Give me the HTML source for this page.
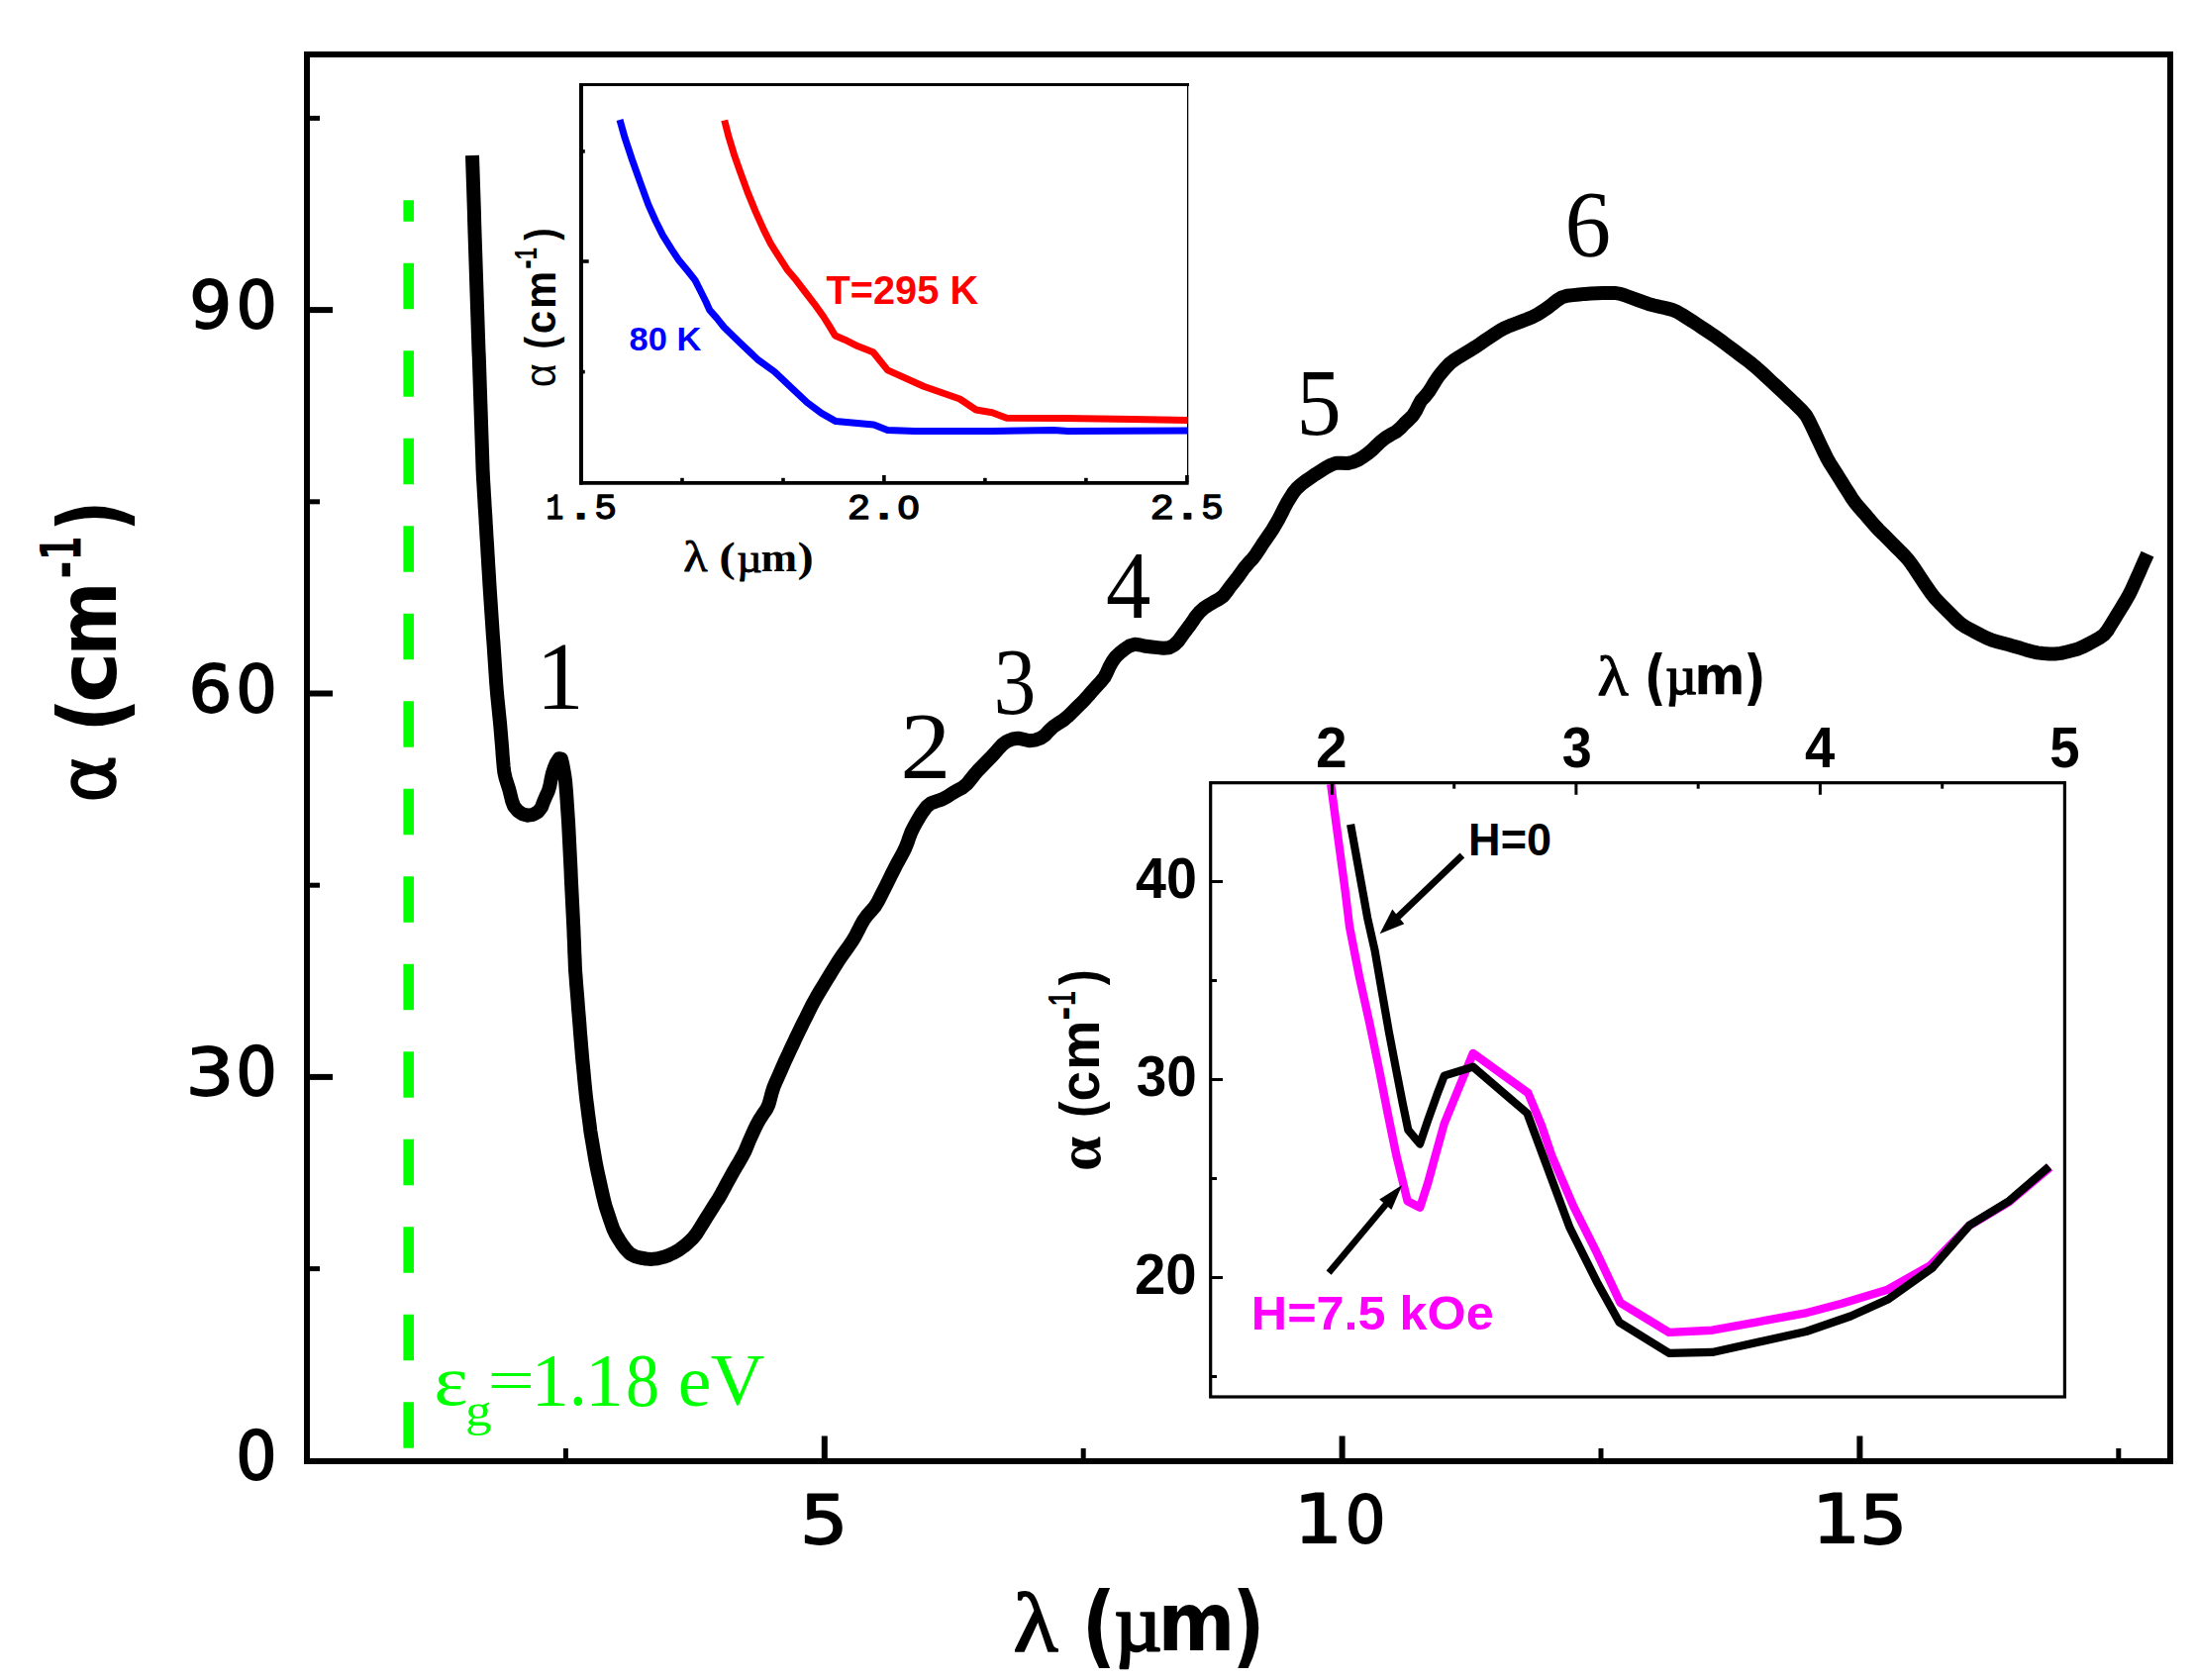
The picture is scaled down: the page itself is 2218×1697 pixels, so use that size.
<!DOCTYPE html>
<html lang="en"><head><meta charset="utf-8"><title>Absorption spectrum</title>
<style>
html,body{margin:0;padding:0;background:#fff;}
body{width:2218px;height:1697px;overflow:hidden;}
svg{display:block;}
text{white-space:pre;}
.sans{font-family:"Liberation Sans", sans-serif;}
.serif{font-family:"Liberation Serif", serif;}
.mono{font-family:"Liberation Mono", monospace;}
.djv{font-family:"DejaVu Sans", "Liberation Sans", sans-serif;}
.b{font-weight:bold;}
</style></head><body>
<svg width="2218" height="1697" viewBox="0 0 2218 1697">
<rect x="0" y="0" width="2218" height="1697" fill="#fff"/>
<g id="mainframe" stroke="#000" fill="none">
<rect x="310" y="55" width="1882" height="1421" stroke-width="6"/>
<line x1="832.8" y1="1474" x2="832.8" y2="1450.5" stroke-width="6"/>
<line x1="1355.6" y1="1474" x2="1355.6" y2="1450.5" stroke-width="6"/>
<line x1="1878.4" y1="1474" x2="1878.4" y2="1450.5" stroke-width="6"/>
<line x1="571.4" y1="1474" x2="571.4" y2="1463" stroke-width="5"/>
<line x1="1094.2" y1="1474" x2="1094.2" y2="1463" stroke-width="5"/>
<line x1="1617.0" y1="1474" x2="1617.0" y2="1463" stroke-width="5"/>
<line x1="2139.8" y1="1474" x2="2139.8" y2="1463" stroke-width="5"/>
<line x1="312" y1="1087.9" x2="336" y2="1087.9" stroke-width="6"/>
<line x1="312" y1="700.5" x2="336" y2="700.5" stroke-width="6"/>
<line x1="312" y1="313.1" x2="336" y2="313.1" stroke-width="6"/>
<line x1="312" y1="1281.6" x2="323" y2="1281.6" stroke-width="5"/>
<line x1="312" y1="894.2" x2="323" y2="894.2" stroke-width="5"/>
<line x1="312" y1="506.8" x2="323" y2="506.8" stroke-width="5"/>
<line x1="312" y1="119.4" x2="323" y2="119.4" stroke-width="5"/>
</g>
<g id="mainticks">
<text id="yt90a" class="djv" transform="translate(191.32 331.00) scale(1.0157 1)" font-size="66.36" fill="#000" stroke="#000" stroke-width="1.8" stroke-linejoin="round">9</text>
<text id="yt90b" class="djv" transform="translate(238.48 331.00) scale(0.9788 1)" font-size="66.36" fill="#000" stroke="#000" stroke-width="1.8" stroke-linejoin="round">0</text>
<text id="yt60a" class="djv" transform="translate(190.48 719.10) scale(1.0343 1)" font-size="66.62" fill="#000" stroke="#000" stroke-width="1.8" stroke-linejoin="round">6</text>
<text id="yt60b" class="djv" transform="translate(238.25 719.10) scale(0.9808 1)" font-size="66.62" fill="#000" stroke="#000" stroke-width="1.8" stroke-linejoin="round">0</text>
<text id="yt30a" class="djv" transform="translate(187.43 1106.30) scale(1.1516 1)" font-size="66.75" fill="#000" stroke="#000" stroke-width="1.8" stroke-linejoin="round">3</text>
<text id="yt30b" class="djv" transform="translate(238.25 1106.30) scale(0.9789 1)" font-size="66.75" fill="#000" stroke="#000" stroke-width="1.8" stroke-linejoin="round">0</text>
<text id="yt0" class="djv" transform="translate(238.28 1494.10) scale(0.9730 1)" font-size="66.75" fill="#000" stroke="#000" stroke-width="1.8" stroke-linejoin="round">0</text>
<text id="xt5" class="djv" transform="translate(807.98 1558.50) scale(1.1393 1)" font-size="66.89" fill="#000" stroke="#000" stroke-width="1.8" stroke-linejoin="round">5</text>
<text id="xt10a" class="djv" transform="translate(1307.05 1558.40) scale(1.1278 1)" font-size="68.08" fill="#000" stroke="#000" stroke-width="1.8" stroke-linejoin="round">1</text>
<text id="xt10b" class="djv" transform="translate(1358.83 1558.30) scale(0.9649 1)" font-size="66.49" fill="#000" stroke="#000" stroke-width="1.8" stroke-linejoin="round">0</text>
<text id="xt15a" class="djv" transform="translate(1830.18 1558.40) scale(1.1244 1)" font-size="68.08" fill="#000" stroke="#000" stroke-width="1.8" stroke-linejoin="round">1</text>
<text id="xt15b" class="djv" transform="translate(1878.00 1558.50) scale(1.1362 1)" font-size="66.89" fill="#000" stroke="#000" stroke-width="1.8" stroke-linejoin="round">5</text>
</g>
<g id="maintitles">
<text id="xt_l" class="serif" transform="translate(1023.48 1667.87) scale(1.0851 1)" font-size="85.67" fill="#000" stroke="#000" stroke-width="1.8" stroke-linejoin="round">λ</text>
<text id="xt_p" class="djv b" transform="translate(1092.45 1673.34) scale(0.8387 1)" font-size="90.45" fill="#000">(</text>
<text id="xt_mu" class="serif" transform="translate(1125.51 1667.27) scale(1.0015 1)" font-size="82.99" fill="#000" stroke="#000" stroke-width="2.4" stroke-linejoin="round">µ</text>
<text id="xt_m" class="djv b" transform="translate(1169.54 1667.30) scale(0.9183 1)" font-size="81.43" fill="#000">m</text>
<text id="xt_q" class="djv b" transform="translate(1244.43 1673.34) scale(0.7968 1)" font-size="90.45" fill="#000">)</text>
<text id="yt_a" class="djv" transform="translate(115.97 810.76) rotate(-90) scale(0.9285 1)" font-size="78.60" fill="#000" stroke="#000" stroke-width="1.5" stroke-linejoin="round">α</text>
<text id="yt_p" class="djv b" transform="translate(123.57 739.78) rotate(-90) scale(0.8373 1)" font-size="91.01" fill="#000">(</text>
<text id="yt_c" class="djv b" transform="translate(116.79 710.13) rotate(-90) scale(1.0817 1)" font-size="80.70" fill="#000">c</text>
<text id="yt_m" class="djv b" transform="translate(117.20 662.51) rotate(-90) scale(0.8834 1)" font-size="81.43" fill="#000">m</text>
<text id="yt_d" class="djv b" transform="translate(84.19 584.63) rotate(-90) scale(0.7557 1)" font-size="58.57" fill="#000">-</text>
<text id="yt_1" class="djv b" transform="translate(81.70 565.94) rotate(-90) scale(0.6130 1)" font-size="57.26" fill="#000">1</text>
<text id="yt_q" class="djv b" transform="translate(123.57 537.09) rotate(-90) scale(0.7540 1)" font-size="91.01" fill="#000">)</text>
</g>
<line id="gline" x1="412.7" y1="1462.7" x2="412.7" y2="202.3" stroke="#00ff00" stroke-width="10.6" stroke-dasharray="46.5 42"/>
<g id="gtext">
<text id="g_e" class="serif" transform="translate(438.33 1419.17) scale(1.1239 1)" font-size="72.71" fill="#00ff00">ε</text>
<text id="g_g" class="serif" transform="translate(470.00 1440.11) scale(1.1440 1)" font-size="46.62" fill="#00ff00">g</text>
<text id="g_eq" class="serif" transform="translate(492.48 1414.35) scale(1.4337 1)" font-size="58.80" fill="#00ff00">=</text>
<text id="g_1" class="serif" transform="translate(536.39 1419.60)" font-size="76.64" fill="#00ff00">1</text>
<text id="g_d" class="serif" transform="translate(574.79 1418.74) scale(0.9368 1)" font-size="77.39" fill="#00ff00">.</text>
<text id="g_1b" class="serif" transform="translate(591.24 1419.60)" font-size="76.64" fill="#00ff00">1</text>
<text id="g_8" class="serif" transform="translate(631.89 1419.55) scale(0.8999 1)" font-size="75.41" fill="#00ff00">8</text>
<text id="g_ee" class="serif" transform="translate(684.87 1419.56) scale(1.0290 1)" font-size="73.54" fill="#00ff00">e</text>
<text id="g_V" class="serif" transform="translate(717.75 1419.19) scale(1.0195 1)" font-size="73.98" fill="#00ff00">V</text>
</g>
<polyline id="maincurve" points="477.0,157.0 477.2,163.0 477.4,169.0 477.6,175.0 477.8,181.0 478.0,187.0 478.2,193.0 478.4,199.0 478.6,205.0 478.8,211.0 479.0,217.0 479.1,223.0 479.3,229.0 479.5,235.0 479.7,241.0 479.9,247.0 480.1,253.0 480.3,259.0 480.5,265.0 480.7,271.0 480.9,277.0 481.1,283.0 481.3,289.0 481.5,295.0 481.7,300.9 481.9,306.9 482.1,312.9 482.3,318.9 482.5,324.9 482.7,330.9 482.9,336.9 483.1,342.9 483.3,348.9 483.5,354.9 483.8,360.9 484.0,366.9 484.2,372.9 484.4,378.9 484.6,384.9 484.8,390.9 485.0,396.9 485.2,402.9 485.4,408.9 485.6,414.9 485.8,420.9 486.0,426.9 486.2,432.9 486.4,438.9 486.6,444.9 486.8,450.9 487.0,456.9 487.2,462.9 487.4,468.9 487.6,474.9 487.9,480.9 488.2,486.9 488.6,492.9 488.9,498.8 489.3,504.8 489.6,510.8 490.0,516.8 490.4,522.8 490.7,528.8 491.1,534.8 491.4,540.8 491.8,546.8 492.2,552.8 492.5,558.8 492.9,564.7 493.2,570.7 493.6,576.7 494.0,582.7 494.3,588.7 494.7,594.7 495.1,600.7 495.5,606.7 495.9,612.7 496.3,618.6 496.7,624.6 497.1,630.6 497.5,636.6 497.9,642.6 498.4,648.6 498.8,654.6 499.2,660.6 499.6,666.5 500.0,672.5 500.4,678.5 500.8,684.5 501.2,690.5 501.7,696.5 502.2,702.5 502.8,708.4 503.4,714.4 504.0,720.4 504.6,726.3 505.2,732.3 505.7,738.3 506.2,744.3 506.7,750.2 507.2,756.2 507.6,762.2 508.1,768.2 508.6,774.2 509.3,780.1 510.6,785.9 512.4,791.6 514.2,797.3 515.7,803.2 517.1,809.0 519.1,814.4 522.8,818.9 527.6,822.2 533.1,823.7 538.6,822.8 543.6,819.9 547.0,815.4 549.0,809.9 551.3,804.5 553.8,799.1 555.4,793.5 556.5,787.6 557.8,781.7 559.6,776.0 561.9,770.5 564.7,766.2 566.9,766.6 568.2,771.6 569.3,777.5 570.3,783.4 571.1,789.3 571.6,795.3 572.1,801.3 572.5,807.2 572.9,813.2 573.3,819.2 573.7,825.2 574.1,831.2 574.4,837.2 574.7,843.2 575.0,849.2 575.3,855.2 575.6,861.2 575.9,867.2 576.2,873.2 576.5,879.1 576.7,885.1 577.0,891.1 577.3,897.1 577.6,903.1 577.9,909.1 578.2,915.1 578.5,921.1 578.8,927.1 579.1,933.1 579.4,939.1 579.6,945.1 579.9,951.1 580.1,957.1 580.3,963.1 580.6,969.1 580.8,975.1 581.1,981.1 581.6,987.0 582.0,993.0 582.5,999.0 583.0,1005.0 583.5,1011.0 583.9,1017.0 584.4,1022.9 584.9,1028.9 585.4,1034.9 585.8,1040.9 586.3,1046.9 586.8,1052.8 587.3,1058.8 587.8,1064.8 588.3,1070.8 588.9,1076.8 589.5,1082.7 590.0,1088.7 590.6,1094.7 591.2,1100.6 591.8,1106.6 592.5,1112.6 593.3,1118.5 594.0,1124.5 594.8,1130.4 595.6,1136.4 596.3,1142.3 597.3,1148.3 598.3,1154.2 599.3,1160.1 600.3,1166.0 601.3,1171.9 602.4,1177.8 603.6,1183.7 604.9,1189.6 606.2,1195.4 607.5,1201.3 608.8,1207.1 610.2,1213.0 611.7,1218.8 613.6,1224.5 615.5,1230.2 617.4,1235.9 619.4,1241.5 622.0,1246.9 625.1,1252.0 628.3,1257.0 631.9,1261.8 635.9,1266.1 640.9,1268.9 646.6,1270.5 652.5,1271.5 658.4,1271.9 664.3,1271.3 670.1,1269.8 675.7,1267.8 681.1,1265.2 686.3,1262.2 691.1,1258.7 695.6,1254.7 699.9,1250.6 703.6,1246.0 706.8,1240.9 710.0,1235.8 713.1,1230.7 716.3,1225.6 719.5,1220.5 722.7,1215.4 725.9,1210.4 728.9,1205.2 731.8,1199.9 734.6,1194.6 737.5,1189.4 740.4,1184.1 743.4,1178.9 746.5,1173.8 749.5,1168.6 752.3,1163.3 754.6,1157.8 756.9,1152.2 759.3,1146.7 761.8,1141.3 764.4,1135.9 767.3,1130.6 770.6,1125.6 774.0,1120.7 776.5,1115.4 778.1,1109.6 779.6,1103.8 781.4,1098.1 783.7,1092.6 786.2,1087.1 788.6,1081.6 791.0,1076.1 793.4,1070.7 796.0,1065.2 798.5,1059.8 801.1,1054.4 803.6,1048.9 806.2,1043.5 808.8,1038.1 811.5,1032.7 814.2,1027.4 816.8,1022.0 819.5,1016.6 822.3,1011.3 825.2,1006.1 828.3,1000.9 831.4,995.8 834.5,990.7 837.7,985.5 840.8,980.4 843.9,975.3 847.1,970.2 850.5,965.3 854.0,960.4 857.5,955.5 860.9,950.6 863.9,945.4 866.7,940.1 869.4,934.7 872.3,929.5 875.8,924.7 879.8,920.2 883.6,915.7 886.8,910.6 889.5,905.3 892.2,899.9 894.9,894.6 897.6,889.2 900.2,883.8 902.9,878.5 905.6,873.1 908.5,867.8 911.4,862.6 914.1,857.3 916.4,851.7 918.3,846.1 920.4,840.5 923.1,835.1 926.0,829.9 929.0,824.7 932.3,819.7 935.9,814.9 940.2,811.3 945.7,809.3 951.3,807.5 956.6,804.8 961.5,801.5 966.6,798.4 971.9,795.7 976.5,792.1 980.2,787.5 983.9,782.8 987.8,778.2 992.0,774.0 996.2,769.7 1000.4,765.4 1004.5,761.0 1008.4,756.5 1012.5,752.2 1017.2,748.7 1022.7,746.5 1028.3,745.7 1034.0,746.9 1039.6,748.2 1045.3,747.6 1050.9,745.7 1055.6,742.4 1059.6,738.1 1063.9,734.0 1068.9,730.7 1073.9,727.5 1078.5,723.7 1082.8,719.5 1087.0,715.3 1091.3,711.1 1095.5,706.8 1099.5,702.4 1103.4,697.8 1107.4,693.3 1111.5,689.0 1115.3,684.4 1118.0,679.2 1120.5,673.7 1123.4,668.4 1126.8,663.6 1131.1,659.5 1135.8,655.8 1140.7,652.5 1145.9,650.8 1151.5,651.5 1157.3,652.8 1163.3,653.5 1169.2,654.1 1175.1,654.8 1180.7,654.3 1185.8,651.6 1190.0,647.6 1193.5,642.7 1197.0,637.9 1200.7,633.1 1204.1,628.3 1207.4,623.3 1211.2,618.7 1215.6,614.6 1220.5,611.2 1225.7,608.2 1230.9,605.4 1235.6,602.0 1239.2,597.4 1242.7,592.5 1246.4,587.8 1250.1,583.1 1253.6,578.2 1257.1,573.3 1261.0,568.8 1265.1,564.4 1268.7,559.7 1272.0,554.7 1275.2,549.6 1278.6,544.7 1282.0,539.8 1285.3,534.8 1288.4,529.6 1291.4,524.4 1294.2,519.1 1296.8,513.7 1299.6,508.4 1302.7,503.3 1305.9,498.2 1309.6,493.5 1314.0,489.5 1318.7,485.9 1323.7,482.5 1328.6,479.1 1333.7,475.8 1338.7,472.6 1344.0,469.8 1349.4,467.8 1355.0,467.8 1360.7,468.1 1366.4,466.8 1371.9,464.5 1376.9,461.4 1381.8,457.8 1386.4,454.0 1390.6,449.8 1395.0,445.7 1399.7,442.0 1404.8,438.9 1410.0,436.1 1414.4,432.4 1418.5,428.0 1422.8,424.0 1427.0,419.8 1430.2,414.8 1432.7,409.5 1435.4,404.5 1439.4,400.3 1443.1,395.7 1446.3,390.6 1449.4,385.5 1452.7,380.5 1456.4,375.8 1460.3,371.3 1464.5,367.0 1469.3,363.4 1474.3,360.2 1479.5,357.1 1484.6,354.0 1489.7,350.8 1494.7,347.5 1499.6,344.1 1504.6,340.7 1509.6,337.4 1514.6,334.2 1519.9,331.2 1525.3,328.9 1531.0,326.7 1536.6,324.6 1542.2,322.5 1547.7,320.2 1553.0,317.5 1558.1,314.3 1563.1,310.9 1567.8,307.3 1572.5,303.5 1577.4,300.4 1582.9,298.8 1588.9,298.1 1594.9,297.5 1600.8,296.9 1606.8,296.5 1612.8,296.3 1618.8,296.1 1624.8,295.9 1630.8,295.9 1636.6,296.8 1642.2,298.7 1647.8,300.8 1653.5,302.9 1659.1,304.9 1664.8,306.9 1670.5,308.5 1676.4,309.9 1682.2,311.1 1688.0,312.6 1693.5,314.8 1698.7,317.8 1703.8,321.0 1708.9,324.2 1713.9,327.5 1718.9,330.8 1723.9,334.1 1728.9,337.5 1733.8,340.8 1738.7,344.4 1743.5,348.0 1748.3,351.6 1753.1,355.2 1757.9,358.8 1762.7,362.4 1767.5,366.0 1772.1,369.8 1776.6,373.8 1781.0,377.8 1785.4,381.9 1789.8,386.0 1794.2,390.0 1798.6,394.1 1803.0,398.3 1807.3,402.4 1811.7,406.5 1816.0,410.7 1820.3,414.9 1824.1,419.4 1827.0,424.6 1829.6,430.0 1832.2,435.4 1834.7,440.8 1837.3,446.2 1839.9,451.7 1842.5,457.1 1845.1,462.5 1848.1,467.7 1851.3,472.7 1854.5,477.8 1857.7,482.9 1860.9,488.0 1864.1,493.1 1867.3,498.1 1870.5,503.2 1874.0,508.1 1877.8,512.7 1881.7,517.2 1885.7,521.7 1889.6,526.3 1893.6,530.8 1897.6,535.2 1901.9,539.4 1906.1,543.7 1910.3,547.9 1914.6,552.2 1918.8,556.4 1923.1,560.7 1927.1,565.1 1930.7,569.9 1934.1,574.8 1937.4,579.8 1940.7,584.8 1944.0,589.8 1947.4,594.8 1950.8,599.7 1954.5,604.4 1958.6,608.7 1962.9,613.0 1967.1,617.2 1971.4,621.5 1975.6,625.7 1980.0,629.7 1984.9,633.1 1990.2,635.9 1995.5,638.7 2000.8,641.5 2006.2,644.2 2011.7,646.5 2017.4,648.2 2023.2,649.8 2029.0,651.3 2034.8,653.0 2040.5,654.6 2046.3,656.4 2052.0,658.0 2057.8,659.4 2063.8,660.0 2069.8,660.4 2075.7,660.5 2081.6,659.9 2087.5,658.5 2093.3,657.0 2099.0,655.4 2104.5,653.0 2109.8,650.2 2115.1,647.4 2120.3,644.5 2125.1,641.1 2128.8,636.5 2131.9,631.4 2135.1,626.3 2138.2,621.2 2141.3,616.1 2144.4,611.0 2147.5,605.8 2150.5,600.6 2153.1,595.2 2155.6,589.8 2158.0,584.3 2160.5,578.8 2162.9,573.3 2165.3,567.8 2167.8,562.3 2169.0,559.6" fill="none" stroke="#000" stroke-width="14" stroke-linejoin="round"/>
<g id="peaks">
<text id="pk1" class="serif" transform="translate(541.44 716.30)" font-size="96.64" fill="#000">1</text>
<text id="pk2" class="serif" transform="translate(909.19 785.60) scale(1.0772 1)" font-size="95.15" fill="#000">2</text>
<text id="pk3" class="serif" transform="translate(1003.51 721.04) scale(0.8960 1)" font-size="95.82" fill="#000">3</text>
<text id="pk4" class="serif" transform="translate(1117.08 624.48) scale(0.9378 1)" font-size="96.77" fill="#000">4</text>
<text id="pk5" class="serif" transform="translate(1309.57 439.15) scale(0.9508 1)" font-size="95.19" fill="#000">5</text>
<text id="pk6" class="serif" transform="translate(1580.41 259.14) scale(0.9709 1)" font-size="95.97" fill="#000">6</text>
</g>
<g id="inset1">
<g stroke="#000" fill="none">
<line x1="587" y1="84" x2="587" y2="489.6" stroke-width="4"/>
<line x1="585" y1="85.5" x2="1201" y2="85.5" stroke-width="3"/>
<line x1="585" y1="487.8" x2="1200.6" y2="487.8" stroke-width="3.7"/>
<line x1="1199.6" y1="85" x2="1199.6" y2="489" stroke-width="1.3"/>
<line x1="892.9" y1="487" x2="892.9" y2="480" stroke-width="3.6"/>
<line x1="1198.9" y1="487" x2="1198.9" y2="480" stroke-width="3.6"/>
<line x1="689" y1="487" x2="689" y2="482.8" stroke-width="3.6"/>
<line x1="791" y1="487" x2="791" y2="482.8" stroke-width="3.6"/>
<line x1="994.9" y1="487" x2="994.9" y2="482.8" stroke-width="3.6"/>
<line x1="1096.9" y1="487" x2="1096.9" y2="482.8" stroke-width="3.6"/>
<line x1="588" y1="264" x2="594.7" y2="264" stroke-width="3.6"/>
<line x1="588" y1="152.9" x2="590.8" y2="152.9" stroke-width="3.6"/>
<line x1="588" y1="375.6" x2="590.8" y2="375.6" stroke-width="3.6"/>
</g>
<polyline id="redc" points="731.7,121.5 735.8,137.4 741.3,155.6 747.7,173.8 755.0,193.9 763.2,213.9 771.4,232.1 778.7,246.7 786.8,259.4 795.0,272.2 804.2,283.1 813.3,295.0 822.4,306.8 831.5,319.5 837.9,329.6 843.5,339.0 853.3,343.2 866.1,349.6 881.9,355.7 896.5,373.9 932.9,390.3 969.4,403.0 985.8,414.0 1002.1,416.7 1016.7,422.2 1075.0,422.5 1144.2,423.4 1199.6,424.4" fill="none" stroke="#ff0000" stroke-width="7" stroke-linejoin="round"/>
<polyline id="bluec" points="626.0,121.0 631.1,139.2 638.4,161.1 647.5,186.6 654.8,206.6 662.1,223.0 669.4,237.6 678.5,252.1 685.8,263.1 694.9,274.0 702.1,283.1 707.6,294.0 713.1,305.0 716.7,313.2 724.0,321.4 731.3,330.5 747.7,346.4 765.9,363.7 782.3,375.5 800.5,392.8 815.1,406.5 829.7,417.4 844.2,425.6 882.5,428.9 896.5,434.4 923.8,435.5 1002.1,435.5 1064.1,434.4 1078.6,435.5 1199.6,435.1" fill="none" stroke="#0000ff" stroke-width="7" stroke-linejoin="round"/>
<text id="i1a1" class="mono" transform="translate(551.38 524.25) scale(0.8068 1)" font-size="36.67" fill="#000" stroke="#000" stroke-width="1.3" stroke-linejoin="round">1</text>
<text id="i1a2" class="mono" transform="translate(570.93 524.25) scale(1.4274 1)" font-size="36.55" fill="#000" stroke="#000" stroke-width="1.3" stroke-linejoin="round">.</text>
<text id="i1a3" class="mono" transform="translate(600.19 523.89) scale(1.0485 1)" font-size="36.12" fill="#000" stroke="#000" stroke-width="1.3" stroke-linejoin="round">5</text>
<text id="i1b1" class="mono" transform="translate(855.81 524.25) scale(1.0834 1)" font-size="36.12" fill="#000" stroke="#000" stroke-width="1.3" stroke-linejoin="round">2</text>
<text id="i1b2" class="mono" transform="translate(876.72 524.25) scale(1.4512 1)" font-size="36.55" fill="#000" stroke="#000" stroke-width="1.3" stroke-linejoin="round">.</text>
<text id="i1b3" class="djv" transform="translate(905.63 523.97) scale(1.1519 1)" font-size="32.32" fill="#000" stroke="#000" stroke-width="1.3" stroke-linejoin="round">0</text>
<text id="i1c1" class="mono" transform="translate(1161.59 524.25) scale(1.1315 1)" font-size="36.12" fill="#000" stroke="#000" stroke-width="1.3" stroke-linejoin="round">2</text>
<text id="i1c2" class="mono" transform="translate(1183.63 524.25) scale(1.4274 1)" font-size="36.55" fill="#000" stroke="#000" stroke-width="1.3" stroke-linejoin="round">.</text>
<text id="i1c3" class="mono" transform="translate(1212.97 523.89) scale(1.0544 1)" font-size="36.12" fill="#000" stroke="#000" stroke-width="1.3" stroke-linejoin="round">5</text>
<text id="i1x_l" class="serif" transform="translate(690.34 577.08) scale(1.1409 1)" font-size="44.11" fill="#000" stroke="#000" stroke-width="0.8" stroke-linejoin="round">λ</text>
<text id="i1x_p" class="serif b" transform="translate(726.36 576.99) scale(1.1734 1)" font-size="42.44" fill="#000">(</text>
<text id="i1x_mu" class="serif" transform="translate(744.13 577.51) scale(1.0472 1)" font-size="42.09" fill="#000" stroke="#000" stroke-width="0.9" stroke-linejoin="round">µ</text>
<text id="i1x_m" class="serif b" transform="translate(768.40 576.80) scale(1.0322 1)" font-size="42.55" fill="#000">m</text>
<text id="i1x_q" class="serif b" transform="translate(805.43 576.99) scale(1.1508 1)" font-size="42.44" fill="#000">)</text>
<text id="i1y_a" class="sans" transform="translate(560.85 391.27) rotate(-90) scale(0.9376 1)" font-size="44.55" fill="#000">α</text>
<text id="i1y_p" class="sans b" transform="translate(560.95 352.48) rotate(-90) scale(0.8510 1)" font-size="44.06" fill="#000">(</text>
<text id="i1y_c" class="sans b" transform="translate(560.85 337.17) rotate(-90) scale(0.9396 1)" font-size="44.55" fill="#000">c</text>
<text id="i1y_m" class="sans b" transform="translate(561.00 312.10) rotate(-90) scale(0.9601 1)" font-size="44.81" fill="#000">m</text>
<text id="i1y_d" class="sans b" transform="translate(543.87 271.83) rotate(-90) scale(0.7366 1)" font-size="38.33" fill="#000">-</text>
<text id="i1y_1" class="sans b" transform="translate(542.10 262.31) rotate(-90) scale(0.6843 1)" font-size="31.74" fill="#000">1</text>
<text id="i1y_q" class="sans b" transform="translate(560.95 242.79) rotate(-90) scale(0.8510 1)" font-size="44.06" fill="#000">)</text>
<text id="i1red" class="sans b" transform="translate(834.50 306.99) scale(0.9702 1)" font-size="40.99" fill="#ff0000">T=295 K</text>
<text id="i1blue" class="sans b" transform="translate(635.57 354.17) scale(1.0333 1)" font-size="33.38" fill="#0000ff">80 K</text>
</g>
<g id="inset2">
<polyline id="magc" points="1344.2,792.1 1358.7,900.0 1363.1,936.4 1373.1,987.4 1383.6,1034.8 1392.6,1078.5 1401.9,1125.9 1410.5,1167.8 1421.6,1213.2 1434.2,1219.8 1442.3,1194.6 1449.6,1167.8 1458.7,1135.0 1471.4,1104.0 1487.8,1063.9 1543.4,1104.0 1557.0,1136.8 1567.3,1167.4 1589.2,1218.4 1612.9,1265.7 1636.5,1315.8 1685.7,1345.9 1729.4,1343.7 1822.3,1326.7 1860.1,1316.7 1905.6,1303.1 1949.4,1278.5 1988.5,1238.4 2029.5,1213.8 2070.5,1179.2" fill="none" stroke="#ff00ff" stroke-width="8.4" stroke-linejoin="round"/>
<polyline id="blkc" points="1364.1,832.7 1376.3,900.0 1381.2,927.3 1388.6,960.1 1395.8,1002.0 1402.8,1042.1 1410.4,1082.1 1416.8,1114.9 1422.3,1141.3 1434.1,1155.5 1442.3,1131.3 1451.4,1105.8 1458.7,1086.7 1487.8,1077.6 1542.5,1124.5 1585.5,1240.2 1612.9,1294.9 1635.6,1335.8 1685.7,1366.8 1729.4,1365.9 1824.2,1345.0 1869.2,1329.5 1907.5,1312.2 1951.2,1281.2 1989.4,1237.5 2029.5,1212.9 2069.6,1178.3" fill="none" stroke="#000" stroke-width="8.2" stroke-linejoin="round"/>
<g stroke="#000" fill="none">
<rect x="1222.7" y="790.7" width="862.7" height="620.3" stroke-width="3.2"/>
<line x1="1345.4" y1="791" x2="1345.4" y2="802.8" stroke-width="3"/>
<line x1="1591.9" y1="791" x2="1591.9" y2="802.8" stroke-width="3"/>
<line x1="1838.4" y1="791" x2="1838.4" y2="802.8" stroke-width="3"/>
<line x1="1468.7" y1="791" x2="1468.7" y2="796.7" stroke-width="3"/>
<line x1="1715.2" y1="791" x2="1715.2" y2="796.7" stroke-width="3"/>
<line x1="1961.7" y1="791" x2="1961.7" y2="796.7" stroke-width="3"/>
<line x1="1223" y1="1290.5" x2="1235" y2="1290.5" stroke-width="3"/>
<line x1="1223" y1="1090.5" x2="1235" y2="1090.5" stroke-width="3"/>
<line x1="1223" y1="890.5" x2="1235" y2="890.5" stroke-width="3"/>
<line x1="1223" y1="1390.5" x2="1229" y2="1390.5" stroke-width="3"/>
<line x1="1223" y1="1190.5" x2="1229" y2="1190.5" stroke-width="3"/>
<line x1="1223" y1="990.5" x2="1229" y2="990.5" stroke-width="3"/>
</g>
<g stroke="#000" stroke-width="6.6" fill="#000">
<line x1="1476.9" y1="864" x2="1410" y2="928"/>
<polygon points="1393.6,943.2 1406.3,918.6 1418.3,933.2" stroke="none"/>
<line x1="1342.1" y1="1285.7" x2="1402" y2="1214"/>
<polygon points="1416.2,1197 1393.2,1211.6 1405.4,1222" stroke="none"/>
</g>
<text id="i2x2" class="sans b" transform="translate(1329.11 775.30) scale(0.9953 1)" font-size="57.14" fill="#000">2</text>
<text id="i2x3" class="sans b" transform="translate(1577.75 775.32) scale(0.9341 1)" font-size="57.75" fill="#000">3</text>
<text id="i2x4" class="sans b" transform="translate(1823.08 774.90) scale(0.9359 1)" font-size="58.12" fill="#000">4</text>
<text id="i2x5" class="sans b" transform="translate(2070.26 775.42) scale(0.9391 1)" font-size="58.14" fill="#000">5</text>
<text id="i2y40" class="sans b" transform="translate(1146.97 907.23) scale(0.9754 1)" font-size="57.04" fill="#000">40</text>
<text id="i2y30" class="sans b" transform="translate(1147.73 1107.32) scale(0.9495 1)" font-size="57.75" fill="#000">30</text>
<text id="i2y20" class="sans b" transform="translate(1146.03 1307.22) scale(0.9754 1)" font-size="57.75" fill="#000">20</text>
<text id="i2t_l" class="serif" transform="translate(1613.60 702.21) scale(1.1089 1)" font-size="57.87" fill="#000" stroke="#000" stroke-width="1.2" stroke-linejoin="round">λ</text>
<text id="i2t_p" class="djv b" transform="translate(1660.80 705.14) scale(0.8091 1)" font-size="59.66" fill="#000">(</text>
<text id="i2t_mu" class="serif" transform="translate(1682.15 701.23) scale(1.0013 1)" font-size="55.07" fill="#000" stroke="#000" stroke-width="1.6" stroke-linejoin="round">µ</text>
<text id="i2t_m" class="djv b" transform="translate(1711.54 701.30) scale(0.9052 1)" font-size="54.11" fill="#000">m</text>
<text id="i2t_q" class="djv b" transform="translate(1760.93 705.14) scale(0.8323 1)" font-size="59.66" fill="#000">)</text>
<text id="i2y_a" class="serif b" transform="translate(1110.88 1182.91) rotate(-90) scale(1.0199 1)" font-size="61.88" fill="#000">α</text>
<text id="i2y_p" class="sans b" transform="translate(1108.61 1128.98) rotate(-90) scale(0.8995 1)" font-size="55.19" fill="#000">(</text>
<text id="i2y_c" class="sans b" transform="translate(1110.03 1112.39) rotate(-90) scale(0.9699 1)" font-size="56.55" fill="#000">c</text>
<text id="i2y_m" class="sans b" transform="translate(1110.20 1081.10) rotate(-90) scale(1.0021 1)" font-size="56.85" fill="#000">m</text>
<text id="i2y_d" class="sans b" transform="translate(1090.00 1030.69) rotate(-90) scale(0.8916 1)" font-size="47.50" fill="#000">-</text>
<text id="i2y_1" class="sans b" transform="translate(1086.00 1016.03) rotate(-90) scale(0.6715 1)" font-size="39.71" fill="#000">1</text>
<text id="i2y_q" class="sans b" transform="translate(1108.61 995.14) rotate(-90) scale(0.8672 1)" font-size="55.19" fill="#000">)</text>
<text id="i2h0" class="sans b" transform="translate(1483.07 864.14) scale(0.9889 1)" font-size="45.63" fill="#000">H=0</text>
<text id="i2h7" class="sans b" transform="translate(1263.83 1342.61) scale(1.0308 1)" font-size="48.84" fill="#ff00ff">H=7.5 kOe</text>
</g>
</svg>
</body></html>
